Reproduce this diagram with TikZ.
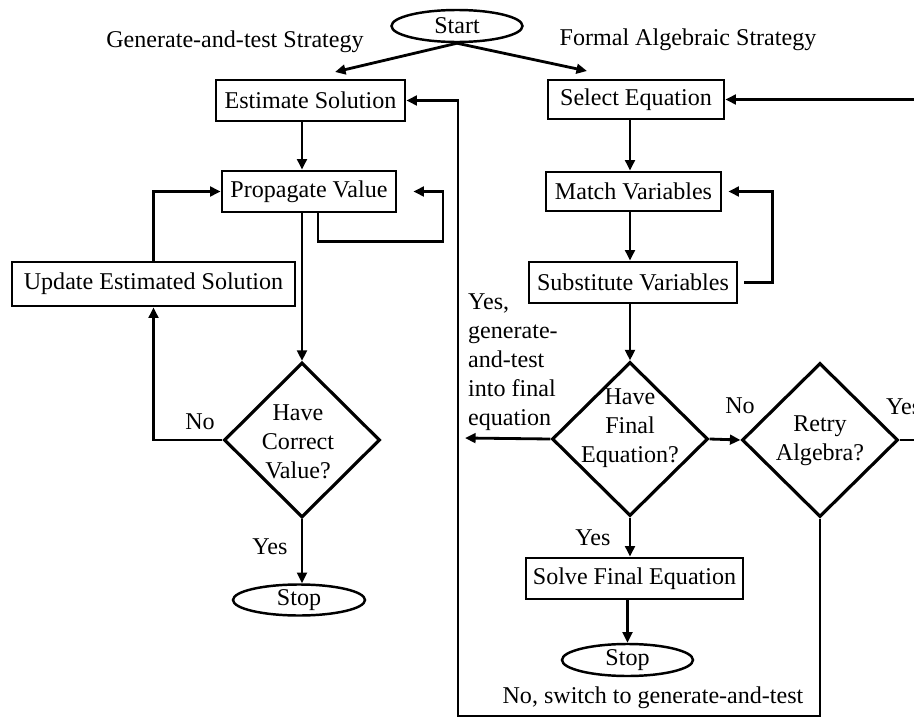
\documentclass[tikz,border=0pt]{standalone}
\usepackage{fontspec}
\setmainfont{Liberation Serif}
\usetikzlibrary{shapes.geometric,arrows.meta}

\tikzset{
	>={Triangle[length=6pt,width=5.5pt]},
	box/.style={draw, line width=1.6pt, inner sep=2pt, minimum height=0.82cm},
	term/.style={draw, ellipse, line width=1.4pt, inner sep=0pt, minimum width=2.62cm, minimum height=0.64cm},
	decision/.style={draw, diamond, line width=1.8pt, inner sep=0pt, minimum width=3.12cm, minimum height=3.1cm},
	flow/.style={->, line width=1.6pt},
}

\begin{document}
\begin{tikzpicture}[x=0.02cm,y=-0.02cm,font=\fontsize{13.7}{16.5}\selectfont]
	\useasboundingbox (0,0) rectangle (914,720);
	% start and the two strategies
	\node[term] at (457,26) (start) {Start};
	\node at (235,42) (gtitle) {Generate-and-test Strategy};
	\node at (688,40) (ftitle) {Formal Algebraic Strategy};
	\coordinate (estin) at (335,72);
	\coordinate (selin) at (587,71);
	\draw[flow] (start.south) -- (estin);
	\draw[flow] (start.south) -- (selin);

	% generate-and-test
	\node[box,minimum width=3.78cm] at (310.5,100.5) (est) {Estimate Solution};
	\node[box,minimum width=3.48cm] at (309,191.5) (prop) {Propagate Value};
	\node[box,minimum width=5.66cm,minimum height=0.88cm] at (153.5,284) (upd) {Update Estimated Solution};
	\node[decision] at (302,440) (dcv) {};
	\node[align=center] at (298,442) (tcv) {Have\\Correct\\Value?};
	\node[term,minimum width=2.64cm,minimum height=0.62cm] at (299,600) (stopA) {Stop};
	\draw[flow] (est.south -| dcv.north) -- (prop.north -| dcv.north);
	\draw[flow] (prop.south -| dcv.north) -- (dcv.north);
	\draw[flow] ([xshift=0.18cm]prop.south) |- ++(125,28) |- ([xshift=0.32cm]prop.east);
	\draw[flow] (dcv.west) -| (upd.south);
	\draw[flow] (upd.north) |- (prop.west);
	\draw[flow] (dcv.south) -- (dcv.south |- stopA.north);
	\node at (200,422) (noA) {No};
	\node at (270,547) (yesA) {Yes};

	% formal algebraic
	\node[box,minimum width=3.52cm,minimum height=0.78cm] at (636,99.5) (sel) {Select Equation};
	\node[box,minimum width=3.5cm,minimum height=0.78cm] at (633.5,191.5) (mat) {Match Variables};
	\node[box,minimum width=4.16cm] at (633,282.5) (sub) {Substitute Variables};
	\node[decision,minimum height=3.08cm] at (630,439) (dfe) {};
	\node[align=center] at (630,428) (tfe) {Have\\Final\\Equation?};
	\node[decision,minimum height=3.08cm] at (820,440) (dra) {};
	\node[align=center] at (820,441) (tra) {Retry\\Algebra?};
	\node[box,minimum width=4.34cm] at (634.5,578.5) (sol) {Solve Final Equation};
	\node[term] at (627.5,660) (stopB) {Stop};
	\draw[flow] (sel.south -| dfe.north) -- (mat.north -| dfe.north);
	\draw[flow] (mat.south -| dfe.north) -- (sub.north -| dfe.north);
	\draw[flow] (sub.south -| dfe.north) -- (dfe.north);
	\draw[flow] ([xshift=0.12cm]sub.east) -- ++(28,0) |- ([xshift=0.12cm]mat.east);
	\coordinate (yesend) at (465,438);
	\draw[flow] (dfe.west) -- (yesend);
	\node[anchor=west,align=left] at (462,362) (yesB) {Yes,\\generate-\\and-test\\into final\\equation};
	\draw[flow] (dfe.east) -- (dra.west);
	\node at (740,406) (noB) {No};
	\draw[flow] (dfe.south) -- (dfe.south |- sol.north);
	\node at (593,538) (yesC) {Yes};
	\draw[flow] (sol.south -| stopB.north) -- (stopB.north);
	\draw[flow] (dra.east) -- ++(30,0) |- (sel.east);
	\node[anchor=west] at (880,407) (yesD) {Yes};
	\coordinate (corner) at (458,716);
	\draw[flow] (dra.south) |- (corner) |- (est.east);
	\node at (653,698) (nosw) {No, switch to generate-and-test};
\end{tikzpicture}
\end{document}
